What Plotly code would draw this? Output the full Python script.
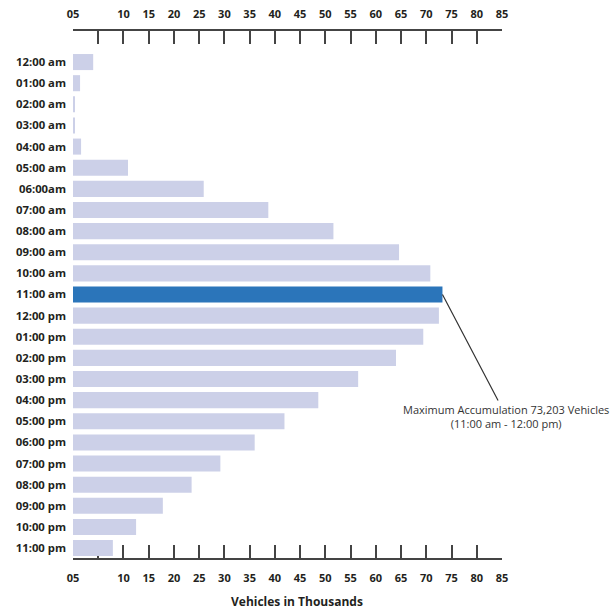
import plotly.graph_objects as go

hours = ["12:00 am", "01:00 am", "02:00 am", "03:00 am", "04:00 am", "05:00 am",
         "06:00am", "07:00 am", "08:00 am", "09:00 am", "10:00 am", "11:00 am",
         "12:00 pm", "01:00 pm", "02:00 pm", "03:00 pm", "04:00 pm", "05:00 pm",
         "06:00 pm", "07:00 pm", "08:00 pm", "09:00 pm", "10:00 pm", "11:00 pm"]
vehicles_k = [4.0, 1.4, 0.3, 0.2, 1.6, 10.9, 25.9, 38.7, 51.6, 64.6, 70.8, 73.203,
              72.5, 69.4, 64.0, 56.5, 48.6, 41.9, 36.0, 29.2, 23.5, 17.8, 12.5, 7.9]
tick_vals = list(range(0, 90, 5))
tick_text = ["05", ""] + [str(v) for v in range(10, 90, 5)]

LIGHT = "#ccd0e8"
DARK = "#2b75ba"
imax = vehicles_k.index(max(vehicles_k))
colors = [DARK if i == imax else LIGHT for i in range(len(vehicles_k))]

fig = go.Figure()
fig.add_trace(go.Bar(x=vehicles_k, y=hours, orientation="h",
                     marker=dict(color=colors, line=dict(width=0)),
                     hoverinfo="x+y", showlegend=False))
fig.add_trace(go.Scatter(x=[0, 85], y=[hours[0], hours[0]], xaxis="x2",
                         mode="markers", marker=dict(opacity=0),
                         hoverinfo="skip", showlegend=False))

axis_common = dict(range=[0, 85], tickmode="array", tickvals=tick_vals, ticktext=tick_text,
                   ticks="inside", ticklen=13, tickwidth=1.5, tickcolor="#444",
                   showline=True, linecolor="#444", linewidth=1.5, showgrid=False,
                   zeroline=False, fixedrange=True, automargin=False,
                   tickfont=dict(family="Open Sans", size=11, color="#231f20", weight="bold"))

fig.update_layout(
    width=615, height=612,
    margin=dict(l=73, r=113, t=31, b=54),
    plot_bgcolor="white", paper_bgcolor="white",
    bargap=0.24,
    xaxis=dict(side="bottom", layer="below traces", ticklabelstandoff=9, **axis_common),
    xaxis2=dict(side="top", overlaying="x", matches="x", layer="below traces",
                ticklabelstandoff=7, **axis_common),
    yaxis=dict(type="category", categoryorder="array", categoryarray=hours,
               range=[23.47, -1.47], showline=False, ticks="", showgrid=False,
               automargin=False, fixedrange=True, ticklabelstandoff=6,
               tickfont=dict(family="Open Sans", size=11.3, color="#231f20", weight="bold")),
    annotations=[
        dict(x=vehicles_k[imax], y=hours[imax], xref="x", yref="y",
             text="Maximum Accumulation 73,203 Vehicles<br>(11:00 am - 12:00 pm)",
             showarrow=True, arrowhead=0, arrowwidth=1.2, arrowcolor="#333",
             ax=64, ay=122, axref="pixel", ayref="pixel",
             font=dict(family="Open Sans", size=11, color="#333")),
        dict(x=0.522, y=0, xref="paper", yref="paper", yanchor="middle", yshift=-43,
             text="<b>Vehicles in Thousands</b>", showarrow=False,
             font=dict(family="Open Sans", size=12, color="#231f20")),
    ],
)

fig.write_html("out.html", config={"displayModeBar": False},
               post_script="document.body.style.margin='0';document.body.style.padding='0';"
                           "document.body.style.overflow='hidden';")
